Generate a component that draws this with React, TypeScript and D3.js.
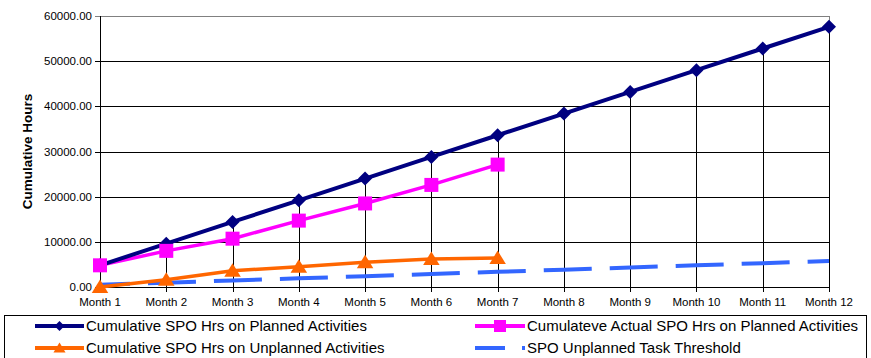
import React from "react";
import * as d3 from "d3";

const months = ["Month 1", "Month 2", "Month 3", "Month 4", "Month 5", "Month 6", "Month 7", "Month 8", "Month 9", "Month 10", "Month 11", "Month 12"];
const plannedHrs = [4800, 9600, 14400, 19200, 24000, 28800, 33600, 38400, 43200, 48000, 52800, 57600];
const actualPlannedHrs = [4800, 8000, 10700, 14700, 18500, 22600, 27100];
const unplannedHrs = [0, 1600, 3600, 4500, 5500, 6200, 6400];
const thresholdHrs = [480, 960, 1440, 1920, 2400, 2880, 3360, 3840, 4320, 4800, 5280, 5760];
const yTicks = [0, 10000, 20000, 30000, 40000, 50000, 60000];

const W = 871;
const H = 358;
const FONT = "'Liberation Sans', Arial, sans-serif";

export default function App() {
  const x = d3.scalePoint<string>().domain(months).range([100, 829]);
  const y = d3.scaleLinear().domain([0, 60000]).range([287, 16]);

  const line = d3
    .line<number>()
    .x((_, i) => x(months[i]) as number)
    .y((d) => y(d));

  const diamond = (cx: number, cy: number, r: number) =>
    `M${cx},${cy - r}L${cx + r},${cy}L${cx},${cy + r}L${cx - r},${cy}Z`;
  const triangle = (cx: number, cy: number, r: number) =>
    `M${cx},${cy - r}L${cx + r * 1.1},${cy + r * 0.8}L${cx - r * 1.1},${cy + r * 0.8}Z`;

  // drop lines from the highest point of each category to the axis
  const maxAt = months.map((_, i) =>
    Math.max(plannedHrs[i] ?? 0, actualPlannedHrs[i] ?? 0, unplannedHrs[i] ?? 0, thresholdHrs[i] ?? 0)
  );

  return (
    <svg
      width={W}
      height={H}
      style={{ position: "absolute", left: 0, top: 0, display: "block", background: "#fff" }}
      fontFamily={FONT}
    >
      {/* gridlines */}
      {yTicks.map((t) => (
        <line key={t} x1={95} x2={829} y1={Math.round(y(t)) + 0.5} y2={Math.round(y(t)) + 0.5} stroke={t === 60000 ? "#808080" : "#000"} strokeWidth={1} />
      ))}
      {/* right border */}
      <line x1={829.5} x2={829.5} y1={16} y2={287} stroke="#808080" />
      {/* drop lines and x ticks */}
      {months.map((m, i) => (
        <line key={m} x1={Math.round(x(m) as number) + 0.5} x2={Math.round(x(m) as number) + 0.5} y1={i === 0 ? 16 : y(maxAt[i])} y2={292} stroke="#000" strokeWidth={1} />
      ))}
      {/* y labels */}
      {yTicks.map((t) => (
        <text key={t} x={92} y={y(t)} dy="0.35em" textAnchor="end" fontSize={11.5} fill="#000">
          {d3.format(".2f")(t)}
        </text>
      ))}
      {/* x labels */}
      {months.map((m) => (
        <text key={m} x={x(m)} y={306} textAnchor="middle" fontSize={11.5} fill="#000">
          {m}
        </text>
      ))}
      <text transform="translate(32,151.5) rotate(-90)" textAnchor="middle" fontSize={13.5} fontWeight="bold" fill="#000">
        Cumulative Hours
      </text>

      {/* threshold */}
      <path d={line(thresholdHrs) as string} fill="none" stroke="#3366FF" strokeWidth={4} strokeDasharray="48 18" strokeDashoffset={18} />
      {/* unplanned */}
      <path d={line(unplannedHrs) as string} fill="none" stroke="#FF6600" strokeWidth={3.5} />
      {/* actual planned */}
      <path d={line(actualPlannedHrs) as string} fill="none" stroke="#FF00FF" strokeWidth={3.5} />
      {/* planned */}
      <path d={line(plannedHrs) as string} fill="none" stroke="#000080" strokeWidth={4} />

      {plannedHrs.map((v, i) => (
        <path key={"p" + i} d={diamond(x(months[i]) as number, y(v), 7)} fill="#000080" />
      ))}
      {actualPlannedHrs.map((v, i) => (
        <rect key={"a" + i} x={(x(months[i]) as number) - 7} y={y(v) - 7} width={14} height={14} fill="#FF00FF" />
      ))}
      {unplannedHrs.map((v, i) => (
        <path key={"u" + i} d={triangle(x(months[i]) as number, y(v), 7.5)} fill="#FF6600" />
      ))}

      {/* legend */}
      <rect x={4.5} y={315.5} width={862} height={60} fill="#fff" stroke="#000" />
      <line x1={35} x2={84} y1={326} y2={326} stroke="#000080" strokeWidth={4} />
      <path d={diamond(59.5, 326, 5)} fill="#000080" />
      <text x={86} y={326} dy="0.35em" fontSize={15} fill="#000">Cumulative SPO Hrs on Planned Activities</text>

      <line x1={35} x2={84} y1={348} y2={348} stroke="#FF6600" strokeWidth={4} />
      <path d={triangle(59.5, 348, 5.5)} fill="#FF6600" />
      <text x={86} y={348} dy="0.35em" fontSize={15} fill="#000">Cumulative SPO Hrs on Unplanned Activities</text>

      <line x1={475} x2={525} y1={326} y2={326} stroke="#FF00FF" strokeWidth={4} />
      <rect x={494} y={320} width={12} height={12} fill="#FF00FF" />
      <text x={527} y={326} dy="0.35em" fontSize={15} fill="#000">Cumulateve Actual SPO Hrs on Planned Activities</text>

      <line x1={475} x2={525} y1={348} y2={348} stroke="#3366FF" strokeWidth={4} strokeDasharray="30 17 3 100" />
      <text x={527} y={348} dy="0.35em" fontSize={15} fill="#000">SPO Unplanned Task Threshold</text>
    </svg>
  );
}
